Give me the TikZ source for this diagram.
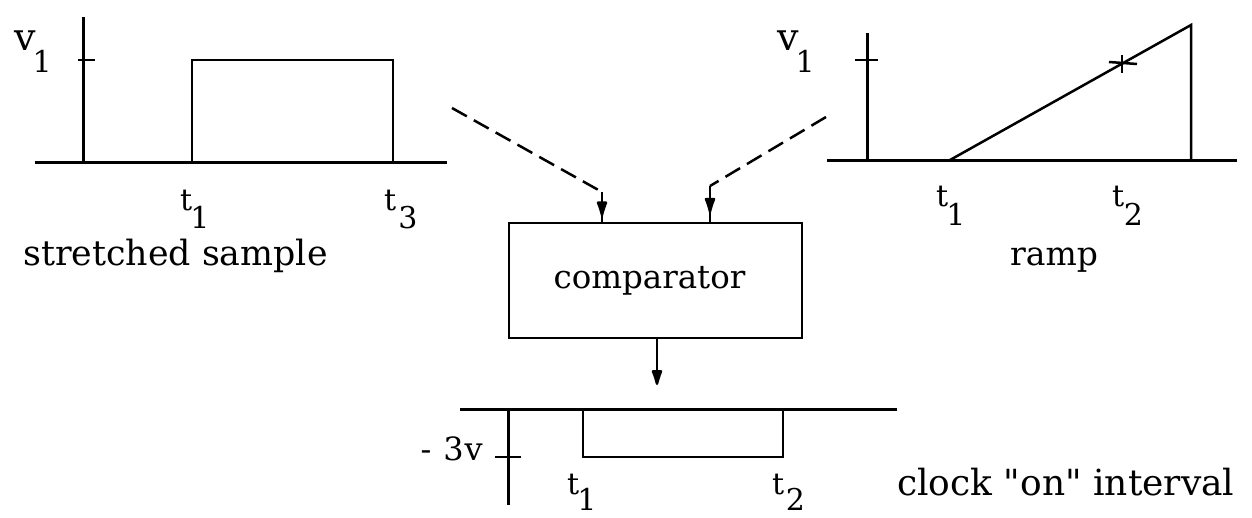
\documentclass[tikz,border=0pt]{standalone}
\usepackage{fontspec}
\setmainfont{DejaVu Serif}[Ligatures=TeXOff]
\usetikzlibrary{arrows.meta,decorations.markings,calc}
\newcommand\subsz{\fontsize{30}{30}\selectfont}
\newcommand\sublab[4]{#1\kern#3pt\raisebox{-#4pt}{\subsz #2}}
\begin{document}
\begin{tikzpicture}[x=1pt,y=-1pt,
  axis/.style={line width=3pt},
  sig/.style={line width=2.5pt, line join=miter},
  feed/.style={line width=2.5pt, dash pattern=on 17pt off 8pt},
  lab/.style={inner sep=0pt, anchor=base west, font=\fontsize{30}{30}\selectfont},
  vlab/.style={lab, font=\fontsize{38}{38}\selectfont},
  word/.style={inner sep=0pt, anchor=base west},
  blockbox/.style={draw, line width=2.8pt, inner sep=0pt, minimum width=293pt, minimum height=115pt,
    font=\fontsize{32.5}{34}\selectfont},
  midtip/.style={postaction={decorate}, decoration={markings,
    mark=at position #1 with {\arrow{Latex[length=20pt,width=12pt,round]}}}},
  endtip/.style={-{Latex[length=20pt,width=12pt,round]}}
]
\useasboundingbox (0,0) rectangle (1252,517);

% ---------- left panel: stretched sample ----------
\draw[axis] (35,162) -- (447,162);
\draw[axis] (83,162) -- (83,17);
\draw[sig] (78,60) -- (95,60);
\draw[sig] (192,162) -- (192,60) -- (393,60) -- (393,162);
\node[vlab] (vL) at (14.5,50) {\sublab{v}{1}{-3.5}{22}};
\node[lab] (tL1) at (180,210) {\sublab{t}{1}{-2}{18}};
\node[lab] (tL3) at (384,210) {\sublab{t}{3}{2}{18}};
\node[word, font=\fontsize{34.8}{36}\selectfont] (lblL) at (23,265) {stretched sample};

% ---------- right panel: ramp ----------
\draw[axis] (827,160) -- (1237,160);
\draw[axis] (867,160) -- (867,33);
\draw[sig] (855,60) -- (878,60);
\draw[sig] (950,160) -- (1191,25) -- (1191,160);
\draw[sig] (1109,62) -- (1137,64);
\draw[sig] (1122,55) -- (1122,73);
\node[vlab] (vR) at (777.5,50) {\sublab{v}{1}{-3.5}{22}};
\node[lab] (tR1) at (936,206) {\sublab{t}{1}{-2}{19}};
\node[lab] (tR2) at (1112,206) {\sublab{t}{2}{-0.5}{19}};
\node[word, font=\fontsize{33}{34}\selectfont] (lblR) at (1010,265) {ramp};

% ---------- comparator ----------
\node[blockbox] (cmp) at (655.5,280.5) {comparator\hspace*{12pt}};

\coordinate (inL) at (452,108);
\coordinate (bendL) at (602,192);
\coordinate (inR) at (826,117);
\coordinate (bendR) at (710,186);
\coordinate (outEnd) at (657,385);

\draw[feed] (inL) -- (bendL);
\draw[sig, midtip=0.82] (bendL) -- (bendL |- cmp.north);
\draw[feed] (inR) -- (bendR);
\draw[sig, midtip=0.75] (bendR) -- (bendR |- cmp.north);
\draw[sig, endtip] (outEnd |- cmp.south) -- (outEnd);

% ---------- bottom panel: clock "on" interval ----------
\draw[axis] (460,409) -- (897,409);
\draw[axis] (508,409) -- (508,505);
\draw[sig] (495,457) -- (521,457);
\draw[sig, line width=2.2pt] (583,409) -- (583,457) -- (783,457) -- (783,409);
\node[lab, anchor=base east, font=\fontsize{32}{32}\selectfont] (m3v) at (483,460) {-\hspace{12pt}3\kern1pt v};
\node[lab] (tB1) at (567,494) {\sublab{t}{1}{-2}{16}};
\node[lab] (tB2) at (772,494) {\sublab{t}{2}{1.5}{16}};
\node[word, font=\fontsize{36}{37}\selectfont] (lblB) at (897,495) {clock "on" interval};
\end{tikzpicture}
\end{document}
